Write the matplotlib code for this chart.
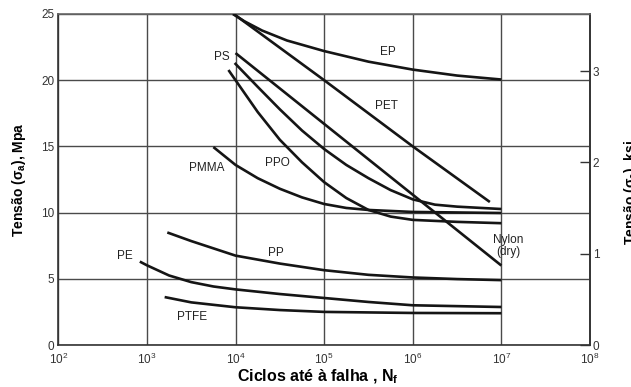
import numpy as np
import matplotlib
matplotlib.use("Agg")
import matplotlib.pyplot as plt
from matplotlib.ticker import LogLocator, NullLocator, FixedLocator

plt.rcParams['font.family'] = ['Liberation Sans', 'DejaVu Sans']
plt.rcParams['mathtext.fontset'] = 'custom'
plt.rcParams['mathtext.rm'] = 'Liberation Sans'
plt.rcParams['mathtext.bf'] = 'Liberation Sans:bold'

# curvas S-N: expoente de N (ciclos = 10**exp) e tensão em MPa
ep_exp = [3.97, 4.1, 4.3, 4.58, 5.0, 5.5, 6.0, 6.5, 7.0]
ep_mpa = [25.0, 24.45, 23.75, 23.0, 22.2, 21.4, 20.8, 20.35, 20.05]

pet_exp = [3.98, 5.0, 6.0, 6.87]
pet_mpa = [25.0, 20.0, 15.0, 10.8]

nylon_exp = [4.0, 5.0, 6.0, 7.0]
nylon_mpa = [22.05, 16.7, 11.35, 6.0]

ps_exp = [3.99, 4.25, 4.5, 4.75, 5.0, 5.25, 5.5, 5.75, 6.0, 6.25, 6.5, 7.0]
ps_mpa = [21.3, 19.5, 17.8, 16.2, 14.8, 13.6, 12.6, 11.7, 11.0, 10.6, 10.45, 10.27]

ppo_exp = [3.92, 4.0, 4.25, 4.5, 4.75, 5.0, 5.25, 5.5, 5.75, 6.0, 6.5, 7.0]
ppo_mpa = [20.77, 20.0, 17.6, 15.5, 13.8, 12.3, 11.1, 10.2, 9.7, 9.45, 9.3, 9.2]

pmma_exp = [3.75, 4.0, 4.25, 4.5, 4.75, 5.0, 5.25, 5.5, 6.0, 7.0]
pmma_mpa = [14.95, 13.6, 12.6, 11.8, 11.15, 10.65, 10.35, 10.2, 10.05, 9.97]

pp_exp = [3.23, 3.5, 4.0, 4.5, 5.0, 5.5, 6.0, 6.5, 7.0]
pp_mpa = [8.5, 7.85, 6.75, 6.15, 5.65, 5.3, 5.1, 4.98, 4.9]

pe_exp = [2.92, 3.0, 3.25, 3.5, 3.75, 4.0, 4.5, 5.0, 5.5, 6.0, 7.0]
pe_mpa = [6.3, 6.02, 5.25, 4.75, 4.42, 4.2, 3.85, 3.55, 3.25, 3.0, 2.87]

ptfe_exp = [3.2, 3.5, 4.0, 4.5, 5.0, 6.0, 7.0]
ptfe_mpa = [3.62, 3.22, 2.85, 2.64, 2.5, 2.42, 2.4]

# rótulos das curvas
rotulos = ['EP', 'PET', 'PS', 'PMMA', 'PPO', 'Nylon\n(dry)', 'PP', 'PE', 'PTFE']
rot_exp = [5.72, 5.70, 3.85, 3.675, 4.47, 7.08, 4.45, 2.75, 3.51]
rot_mpa = [22.1, 18.05, 21.75, 13.37, 13.75, 7.44, 6.95, 6.72, 2.15]

MPA_POR_KSI = 6.895

fig = plt.figure(figsize=(6.31, 3.87), dpi=100)
ax = fig.add_axes([58.3 / 631, 1 - 345 / 387, (590 - 58.3) / 631, (345 - 14) / 387])

curvas = [(ep_exp, ep_mpa), (pet_exp, pet_mpa), (nylon_exp, nylon_mpa),
          (ps_exp, ps_mpa), (ppo_exp, ppo_mpa), (pmma_exp, pmma_mpa),
          (pp_exp, pp_mpa), (pe_exp, pe_mpa), (ptfe_exp, ptfe_mpa)]
for xs, ys in curvas:
    ax.plot(10 ** np.array(xs), ys, color='#151515', lw=1.9,
            solid_capstyle='butt', solid_joinstyle='round', zorder=3)

for txt, xe, y in zip(rotulos, rot_exp, rot_mpa):
    ax.text(10 ** xe, y, txt, ha='center', va='center', fontsize=8.5,
            color='#222222', linespacing=1.0, zorder=4)

ax.set_xscale('log')
ax.set_xlim(1e2, 1e8)
ax.set_ylim(0, 25)
ax.xaxis.set_major_locator(LogLocator(base=10, numticks=10))
ax.xaxis.set_minor_locator(NullLocator())
ax.yaxis.set_major_locator(FixedLocator([0, 5, 10, 15, 20, 25]))
ax.grid(True, color='#4a4a4a', lw=1.0)
ax.tick_params(axis='both', length=0, labelsize=8.5, labelcolor='#333333')
ax.tick_params(axis='x', pad=5)
ax.tick_params(axis='y', pad=3)
for s in ax.spines.values():
    s.set_color('#333333')
    s.set_linewidth(1.2)
ax.spines['top'].set_color('#666666')

# eixo secundário em ksi
sec = ax.secondary_yaxis('right', functions=(lambda m: m / MPA_POR_KSI,
                                             lambda k: k * MPA_POR_KSI))
sec.yaxis.set_major_locator(FixedLocator([0, 1, 2, 3]))
sec.tick_params(direction='in', length=7, width=1.0, pad=2,
                labelsize=8.5, labelcolor='#333333', color='#333333')
sec.spines['right'].set_color('#333333')
sec.spines['right'].set_linewidth(1.2)

fig.text(318 / 631, 1 - 377 / 387, 'Ciclos até à falha , N$_\\mathbf{f}$',
         ha='center', va='center', fontsize=11.5, fontweight='bold')
fig.text(19 / 631, 1 - 180 / 387, 'Tensão (σ$_\\mathbf{a}$), Mpa', rotation=90,
         ha='center', va='center', fontsize=10, fontweight='bold')
fig.text(622 / 631, 1 - 192 / 387, 'Tensão (σ$_\\mathbf{a}$), ksi', rotation=90,
         ha='left', va='center', fontsize=10, fontweight='bold')

fig.savefig('out.png', dpi=100)
